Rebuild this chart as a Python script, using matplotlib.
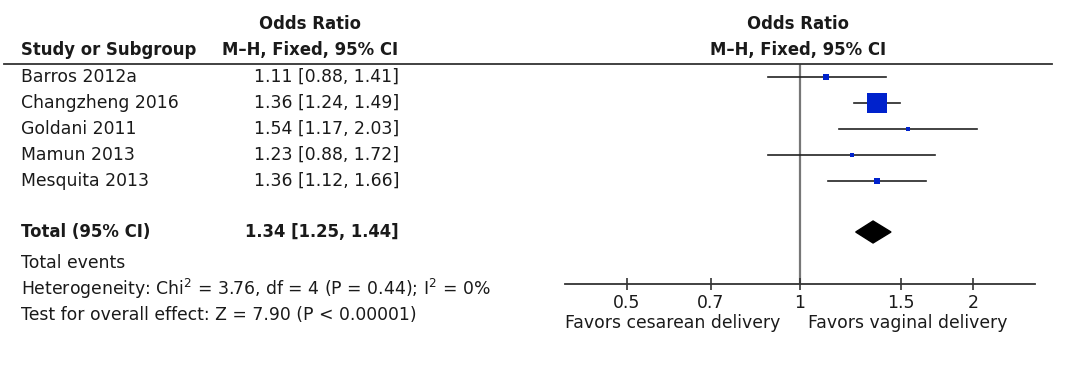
import matplotlib
matplotlib.use("Agg")
import matplotlib.pyplot as plt
from matplotlib.lines import Line2D
import numpy as np

studies = ["Barros 2012a", "Changzheng 2016", "Goldani 2011", "Mamun 2013", "Mesquita 2013"]
or_vals = [1.11, 1.36, 1.54, 1.23, 1.36]
ci_low = [0.88, 1.24, 1.17, 0.88, 1.12]
ci_high = [1.41, 1.49, 2.03, 1.72, 1.66]
square_px = [6, 20, 5, 4, 6]  # approximate weight-based square size
total_or = 1.34
total_low = 1.25
total_high = 1.44
tick_vals = [0.5, 0.7, 1, 1.5, 2]
tick_labels = ["0.5", "0.7", "1", "1.5", "2"]
footer = ["Total events",
          "Heterogeneity: Chi$^2$ = 3.76, df = 4 (P = 0.44); I$^2$ = 0%",
          "Test for overall effect: Z = 7.90 (P < 0.00001)"]

W, H = 1080, 365
DPI = 100
plt.rcParams['font.family'] = ['DejaVu Sans']
plt.rcParams['mathtext.default'] = 'regular'
fig = plt.figure(figsize=(W / DPI, H / DPI), dpi=DPI)

def fx(x):
    return x / W

def fy(y):
    return 1 - y / H

FS = 12.4
FSB = 11.9
TXT = '#1a1a1a'
row_y = [77, 103, 129, 155, 181]
total_y = 232

# table headers
fig.text(fx(21), fy(50), "Study or Subgroup", fontsize=FSB, fontweight='bold', va='center', ha='left', color=TXT)
fig.text(fx(310), fy(24), "Odds Ratio", fontsize=FSB, fontweight='bold', va='center', ha='center', color=TXT)
fig.text(fx(310), fy(50), "M\u2013H, Fixed, 95% CI", fontsize=FSB, fontweight='bold', va='center', ha='center', color=TXT)
fig.text(fx(798), fy(24), "Odds Ratio", fontsize=FSB, fontweight='bold', va='center', ha='center', color=TXT)
fig.text(fx(798), fy(50), "M\u2013H, Fixed, 95% CI", fontsize=FSB, fontweight='bold', va='center', ha='center', color=TXT)

fig.add_artist(Line2D([fx(4), fx(1052)], [fy(64), fy(64)], color='#333333', lw=1.3))

for s, o, lo, hi, y in zip(studies, or_vals, ci_low, ci_high, row_y):
    fig.text(fx(21), fy(y), s, fontsize=FS, va='center', ha='left', color=TXT)
    fig.text(fx(399), fy(y), f"{o:.2f} [{lo:.2f}, {hi:.2f}]", fontsize=FS, va='center', ha='right', color=TXT)

fig.text(fx(21), fy(total_y), "Total (95% CI)", fontsize=FSB, fontweight='bold', va='center', ha='left', color=TXT)
fig.text(fx(399), fy(total_y), f"{total_or:.2f} [{total_low:.2f}, {total_high:.2f}]",
         fontsize=FSB, fontweight='bold', va='center', ha='right', color=TXT)

for t, y in zip(footer, [263, 289, 315]):
    fig.text(fx(21), fy(y), t, fontsize=FS, va='center', ha='left', color=TXT)

# forest axes
ax_left, ax_right, ax_top, ax_bot = 565, 1035, 64, 284
ax = fig.add_axes([fx(ax_left), fy(ax_bot), fx(ax_right - ax_left), (ax_bot - ax_top) / H])
ax.set_xscale('log')
ax.set_xlim(0.39, 2.564)
ax.set_ylim(ax_bot, ax_top)
ax.patch.set_alpha(0)
for sp in ['top', 'left', 'right']:
    ax.spines[sp].set_visible(False)
ax.spines['bottom'].set_color('#333333')
ax.spines['bottom'].set_linewidth(1.3)
ax.set_yticks([])
ax.set_xticks(tick_vals)
ax.set_xticklabels(tick_labels, fontsize=FS, color=TXT)
ax.xaxis.set_minor_locator(matplotlib.ticker.NullLocator())
ax.tick_params(axis='x', direction='inout', length=9, width=1.2, color='#333333', pad=3)

ax.axvline(1, color='#777777', lw=1.6, zorder=1)

for o, lo, hi, y, sz in zip(or_vals, ci_low, ci_high, row_y, square_px):
    ax.plot([lo, hi], [y, y], color='#222222', lw=1.2, zorder=2)
    ax.plot([o], [y], marker='s', markersize=sz * 0.72, color='#0022cc', markeredgewidth=0, zorder=3)

diamond_x = [total_low, total_or, total_high, total_or]
diamond_y = [total_y, total_y - 11, total_y, total_y + 11]
ax.fill(diamond_x, diamond_y, color='black', zorder=3)

fig.text(fx(565), fy(323), "Favors cesarean delivery", fontsize=FS, va='center', ha='left', color=TXT)
fig.text(fx(808), fy(323), "Favors vaginal delivery", fontsize=FS, va='center', ha='left', color=TXT)

fig.savefig("out.png", dpi=DPI)
